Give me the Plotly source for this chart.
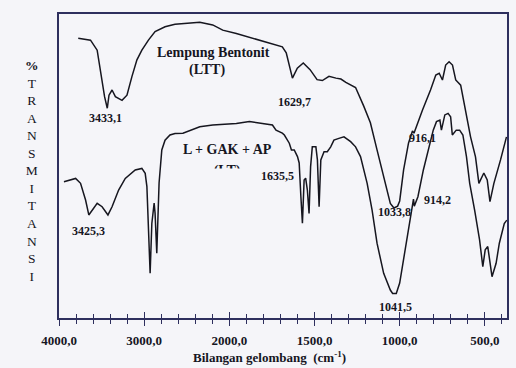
import plotly.graph_objects as go

# ---- FTIR spectra: wavenumber (cm-1) and % transmittance ----
# Lempung Bentonit (LTT)
ltt_wn = [3774, 3630, 3552, 3533, 3465, 3433.1, 3413, 3377, 3338, 3260, 3202, 3144,
          3085, 3027, 2950, 2872, 2755, 2638, 2545, 2347, 2195, 2078, 1959, 1864,
          1765, 1689, 1666, 1649, 1629.7, 1601, 1566, 1526, 1485, 1454, 1415, 1374,
          1345, 1316, 1259, 1211, 1172, 1133, 1094, 1055, 1033.8, 1012, 1000, 977,
          948, 925, 916.1, 901, 866, 819, 788, 768, 749, 730, 710, 690, 671, 642,
          613, 584, 555, 535, 506, 486, 470, 447, 408, 373]
ltt_t = [92.0, 91.4, 88.1, 84.9, 72.8, 69.0, 73.3, 75.0, 72.8, 71.6, 73.3, 79.4,
         84.9, 88.1, 91.4, 94.2, 95.8, 96.6, 96.9, 97.3, 96.4, 94.7, 93.6, 92.0,
         90.3, 89.2, 87.2, 83.0, 78.9, 82.2, 83.9, 81.7, 78.4, 78.1, 79.5, 78.9,
         78.6, 77.5, 75.8, 69.7, 64.2, 55.3, 46.5, 37.7, 36.2, 36.8, 38.5, 48.7,
         57.6, 61.5, 60.8, 63.2, 68.4, 75.0, 79.9, 80.5, 78.3, 83.2, 84.3, 83.2,
         78.3, 76.6, 68.4, 59.6, 53.0, 44.3, 47.7, 45.4, 38.3, 44.3, 52.0, 59.6]

# L + GAK + AP (LT)
lt_wn = [3942, 3863, 3805, 3747, 3688, 3650, 3592, 3552, 3494, 3425.3, 3377, 3300,
         3222, 3105, 3027, 2988, 2968, 2950, 2930, 2910, 2883, 2872, 2852, 2825,
         2793, 2755, 2697, 2638, 2545, 2347, 2195, 1959, 1882, 1806, 1747, 1726,
         1689, 1677, 1648, 1635.5, 1619, 1600, 1590, 1580, 1571, 1561, 1552, 1542,
         1532, 1523, 1513, 1492, 1483, 1473, 1463, 1444, 1425, 1405, 1386, 1357,
         1327, 1288, 1259, 1230, 1191, 1162, 1133, 1094, 1055, 1041.5, 1020, 1000,
         977, 958, 938, 919, 914.2, 893, 861, 832, 803, 784, 764, 755, 735, 716,
         701, 691, 668, 648, 629, 608, 589, 560, 531, 512, 498, 483, 467, 458,
         434, 415, 386, 371]
lt_t = [44.8, 45.4, 45.9, 44.3, 38.8, 33.9, 36.2, 37.7, 36.6, 33.9, 36.6, 42.1,
        45.9, 48.7, 49.2, 47.6, 43.2, 30.0, 14.7, 31.1, 37.8, 34.5, 21.3, 44.4,
        55.3, 58.5, 60.2, 60.7, 60.8, 62.9, 63.5, 64.0, 64.6, 64.0, 63.5, 61.8,
        60.8, 60.2, 57.5, 55.3, 55.3, 53.1, 51.0, 39.9, 31.2, 45.4, 46.0, 42.1,
        34.4, 49.8, 56.3, 56.3, 52.0, 36.6, 52.0, 54.7, 54.7, 56.3, 58.5, 59.1,
        59.6, 58.0, 56.3, 53.1, 44.3, 35.5, 24.6, 14.7, 9.2, 8.1, 8.1, 11.5,
        19.1, 26.7, 33.3, 39.1, 36.8, 39.9, 48.7, 55.3, 61.8, 64.6, 65.1, 61.8,
        66.8, 67.3, 66.2, 60.2, 61.8, 61.8, 60.2, 53.1, 44.3, 35.5, 25.7, 16.9,
        22.4, 23.5, 18.0, 13.6, 18.0, 24.6, 31.1, 32.2]

major_wn = [4000, 3000, 2000, 1500, 1000, 500]
major_text = ["4000,0", "3000,0", "2000,0", "1500,0", "1000,0", "500,0"]

peak_text = ["3433,1", "3425,3", "1629,7", "1635,5", "1033,8", "1041,5", "916,1", "914,2"]


def axis_pos(w):
    """Scale change at 2000 cm-1: the high-wavenumber half is compressed 2:1."""
    return w if w <= 2000 else 2000 + (w - 2000) / 2.0


INK = "#16161f"
FRAME = "#2e2f5e"
BG = "#f5f5f9"
SERIF = "Liberation Serif"

fig = go.Figure()
for wn, tr in ((ltt_wn, ltt_t), (lt_wn, lt_t)):
    fig.add_trace(go.Scatter(
        x=[axis_pos(w) for w in wn], y=tr, mode="lines",
        line=dict(color=INK, width=1.5, shape="linear"),
        hoverinfo="skip", showlegend=False))

tickvals = [axis_pos(w) for w in major_wn]
x_lo, x_hi = axis_pos(4000), 370

PLOT_TOP, PLOT_BOTTOM = 14, 318   # pixel rows of the frame


def px(x):
    return (x - 59) / 450.5


def py(y):
    return (PLOT_BOTTOM - y) / (PLOT_BOTTOM - PLOT_TOP)


# "(LT)" sits partly behind the spectrum area: it is drawn in its own
# clipping subplot whose lower edge cuts the glyphs
LT_CUT = 168.5
clip_lo = py(LT_CUT)

fig.update_layout(
    width=516, height=368,
    margin=dict(l=59, r=7, t=14, b=50),
    paper_bgcolor=BG, plot_bgcolor="rgba(0,0,0,0)",
    showlegend=False,
    xaxis=dict(
        range=[x_lo, x_hi], tickmode="array", tickvals=tickvals, ticktext=major_text,
        ticks="outside", ticklen=6, tickwidth=1.4, tickcolor=FRAME,
        minor=dict(ticks="outside", ticklen=4, tickwidth=1.2, tickcolor=FRAME,
                   tickmode="linear", tick0=0, dtick=100),
        tickfont=dict(family=SERIF, size=13, color=INK, weight="bold"),
        ticklabelstandoff=3,
        showline=True, linecolor=FRAME, linewidth=2, mirror=True,
        showgrid=False, zeroline=False,
    ),
    xaxis2=dict(
        overlaying="x", matches="x", anchor="y", side="bottom",
        tickmode="array", tickvals=tickvals, showticklabels=False,
        ticks="inside", ticklen=6, tickwidth=1.4, tickcolor=FRAME,
        minor=dict(ticks="inside", ticklen=4, tickwidth=1.2, tickcolor=FRAME,
                   tickmode="linear", tick0=0, dtick=100),
        showline=False, showgrid=False, zeroline=False,
    ),
    yaxis=dict(
        range=[0, 100], showticklabels=False, ticks="",
        showline=True, linecolor=FRAME, linewidth=2, mirror=True,
        showgrid=False, zeroline=False,
    ),
    xaxis3=dict(domain=[0, 1], range=[0, 1], anchor="y3", visible=False),
    yaxis3=dict(domain=[clip_lo, 1], range=[clip_lo, 1], anchor="x3", visible=False),
)
# invisible trace so the second x axis (inner tick marks) is drawn
fig.add_trace(go.Scatter(x=[x_lo], y=[None], xaxis="x2", yaxis="y",
                         mode="lines", showlegend=False, hoverinfo="skip"))
fig.add_trace(go.Scatter(
    x=[px(228)], y=[py(171)], xaxis="x3", yaxis="y3", mode="text",
    text=["<b>(LT)</b>"], textposition="middle center", cliponaxis=True,
    textfont=dict(family=SERIF, size=14, color=INK),
    showlegend=False, hoverinfo="skip"))


def label(text, x, y, size=12, bold=True):
    fig.add_annotation(
        text=f"<b>{text}</b>" if bold else text,
        xref="paper", yref="paper", x=px(x), y=py(y),
        xanchor="center", yanchor="middle", showarrow=False,
        font=dict(family=SERIF, size=size, color=INK))


# peak labels
peak_xy = [(105.5, 118), (89, 231), (296, 102), (279, 176),
           (396, 212), (397, 307), (425, 138), (440, 200)]
for t, (x, y) in zip(peak_text, peak_xy):
    label(t, x, y, size=12)

# sample names
label("Lempung Bentonit", 214, 52, size=14)
label("(LTT)", 208, 70, size=14)
label("L + GAK + AP", 228, 149, size=14)

# axis titles
label("Bilangan gelombang  (cm<sup>-1</sup>)", 271, 357, size=13)
fig.add_annotation(
    text="<b>%</b><br>" + "<br>".join("TRANSMITANSI"),
    xref="paper", yref="paper", x=px(32), y=py(170.5),
    xanchor="center", yanchor="middle", showarrow=False, align="center",
    font=dict(family=SERIF, size=13.5, color=INK))

fig.write_html("out.html")
